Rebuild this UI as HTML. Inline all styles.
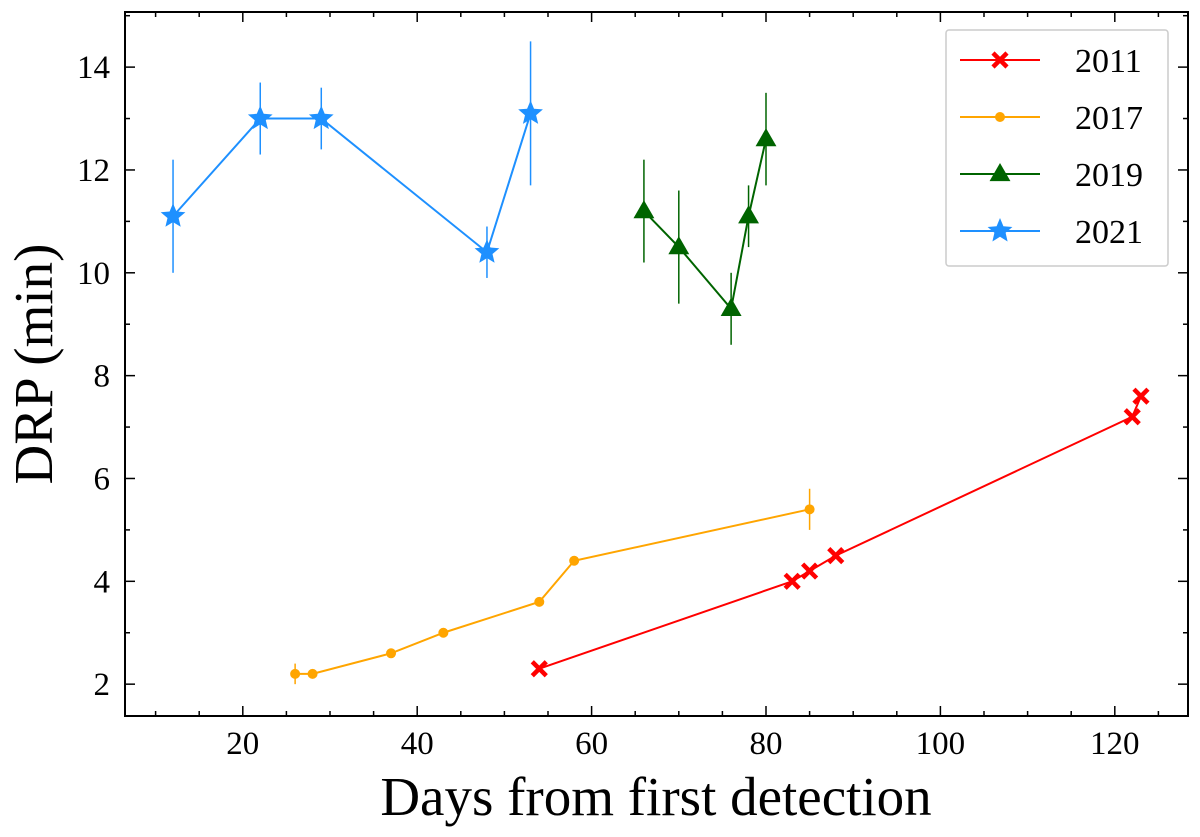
<!DOCTYPE html>
<html><head><meta charset="utf-8"><style>
body{margin:0;background:#fff}
svg text{font-family:"Liberation Serif",serif;fill:#000}
</style></head><body>
<svg id="c" width="1200" height="832"></svg>
<script>
const xTicks=[20,40,60,80,100,120];
const yTicks=[2,4,6,8,10,12,14];
const s2011x=[54,83,85,88,122,123];
const s2011y=[2.3,4.0,4.2,4.5,7.2,7.6];
const s2017x=[26,28,37,43,54,58,85];
const s2017y=[2.2,2.2,2.6,3.0,3.6,4.4,5.4];
const s2017e=[0.2,0,0,0,0,0,0.4];
const s2019x=[66,70,76,78,80];
const s2019y=[11.2,10.5,9.3,11.1,12.6];
const s2019e=[1.0,1.1,0.7,0.6,0.9];
const s2021x=[12,22,29,48,53];
const s2021y=[11.1,13.0,13.0,10.4,13.1];
const s2021e=[1.1,0.7,0.6,0.5,1.4];

const L=125,R=1188,T=12,B=716;
const X=v=>68.4+v*8.72;
const Y=v=>787-v*51.42;
const svg=document.getElementById('c');
const NS='http://www.w3.org/2000/svg';
function mk(t,a,p){const e=document.createElementNS(NS,t);for(const k in a)e.setAttribute(k,a[k]);(p||svg).appendChild(e);return e;}
for(let v=10;v<=125;v+=5){const major=v%20===0;const len=major?10:5;
 let e=mk('line',{x1:X(v),x2:X(v),y1:B,y2:B-len,stroke:'#000','stroke-width':1.5});
 e=mk('line',{x1:X(v),x2:X(v),y1:T,y2:T+len,stroke:'#000','stroke-width':1.5});}
xTicks.forEach(v=>{const t=mk('text',{x:X(v),y:754,'font-size':33,'text-anchor':'middle'});t.textContent=v;});
for(let v=2;v<=15;v+=1){const major=v%2===0;const len=major?10:5;
 let e=mk('line',{x1:L,x2:L+len,y1:Y(v),y2:Y(v),stroke:'#000','stroke-width':1.5});
 e=mk('line',{x1:R,x2:R-len,y1:Y(v),y2:Y(v),stroke:'#000','stroke-width':1.5});}
yTicks.forEach(v=>{const t=mk('text',{x:110,y:Y(v)+11,'font-size':33,'text-anchor':'end'});t.textContent=v;});
let fr=mk('rect',{x:L,y:T,width:R-L,height:B-T,fill:'none',stroke:'#000','stroke-width':2});

let xt=mk('text',{x:656,y:815,'font-size':55,'text-anchor':'middle'});xt.textContent='Days from first detection';

let yt=mk('text',{x:0,y:0,'font-size':55,'text-anchor':'middle',transform:'translate(52,364) rotate(-90)'});yt.textContent='DRP (min)';


function star(cx,cy,r,c,p){let pts=[];for(let i=0;i<10;i++){const a=-Math.PI/2+i*Math.PI/5;const rr=i%2?r*0.45:r;pts.push((cx+rr*Math.cos(a)).toFixed(1)+','+(cy+rr*Math.sin(a)).toFixed(1));}return mk('polygon',{points:pts.join(' '),fill:c},p);}
function tri(cx,cy,r,c,p){return mk('polygon',{points:`${cx},${cy-r} ${cx+r*0.95},${cy+r*0.65} ${cx-r*0.95},${cy+r*0.65}`,fill:c},p);}
function cross(cx,cy,r,c,p){const gg=mk('g',{},p);mk('path',{d:`M${cx-r},${cy-r}L${cx+r},${cy+r}M${cx-r},${cy+r}L${cx+r},${cy-r}`,stroke:c,'stroke-width':4.5},gg);return gg;}
function dot(cx,cy,r,c,p){return mk('circle',{cx,cy,r,fill:c},p);}

function series(name,xs,ys,es,color,marker,size){
 const gg=mk('g',{});
 if(es)xs.forEach((x,i)=>{if(es[i]>0){const e=mk('line',{x1:X(x),x2:X(x),y1:Y(ys[i]-es[i]),y2:Y(ys[i]+es[i]),stroke:color,'stroke-width':1.5},gg);}});
 const pl=mk('polyline',{points:xs.map((x,i)=>X(x)+','+Y(ys[i])).join(' '),fill:'none',stroke:color,'stroke-width':2},gg);
 
 xs.forEach((x,i)=>{const m=marker(X(x),Y(ys[i]),size,color,gg);});
}
series('2017',s2017x,s2017y,s2017e,'#ffa500',dot,5);
series('2011',s2011x,s2011y,null,'#ff0000',cross,7);
series('2019',s2019x,s2019y,s2019e,'#006400',tri,11);
series('2021',s2021x,s2021y,s2021e,'#1e90ff',star,13);

const lg=mk('g',{});
mk('rect',{x:946,y:30,width:222,height:236,fill:'#fff',stroke:'#ccc','stroke-width':1.5,rx:3},lg);
const ent=[['2011','#ff0000',cross,7],['2017','#ffa500',dot,5],['2019','#006400',tri,11],['2021','#1e90ff',star,13]];
ent.forEach((e,i)=>{const y=60+i*57;const eg=mk('g',{},lg);
 mk('line',{x1:960,x2:1040,y1:y,y2:y,stroke:e[1],'stroke-width':2},eg);e[2](1000,y,e[3],e[1],eg);
 const t=mk('text',{x:1075,y:y+12,'font-size':34},eg);t.textContent=e[0];});
</script>
</body></html>
